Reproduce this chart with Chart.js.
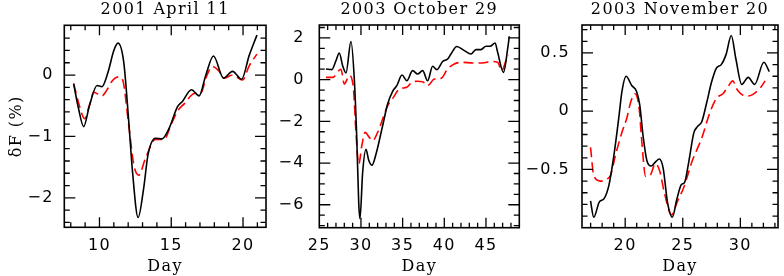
<!DOCTYPE html>
<html><head><meta charset="utf-8">
<script src="https://cdn.jsdelivr.net/npm/chart.js@4/dist/chart.umd.min.js"></script>
<style>
html,body{margin:0;padding:0;background:#fff;}
#wrap{position:relative;width:784px;height:276px;overflow:hidden;}
#wrap canvas{position:absolute;left:0;top:0;}
</style>
</head><body>
<div id="wrap">
<canvas id="c1" width="784" height="276"></canvas>
<canvas id="c2" width="784" height="276"></canvas>
<canvas id="c3" width="784" height="276"></canvas>
</div>
<script>
// ---------- data ----------
const titles = ['2001 April 11', '2003 October 29', '2003 November 20'];
const xLabel = 'Day';
const yLabel = 'δF (%)';

// Panel 1: 2001 April 11
const p1BlackDay = [8.2, 8.5, 8.9, 9.3, 9.83, 10.17, 10.6, 11.0, 11.29, 11.69, 12.04, 12.3, 12.69, 13.08, 13.38, 13.9, 14.36, 14.85, 15.43, 15.78, 16.41, 16.94, 17.41, 17.94, 18.64, 19.27, 19.9, 20.43, 20.97];
const p1BlackVal = [-0.14, -0.5, -0.84, -0.5, -0.17, -0.19, 0.05, 0.40, 0.52, 0.21, -0.76, -1.57, -2.32, -1.84, -1.30, -1.03, -1.04, -0.87, -0.52, -0.43, -0.24, -0.34, 0.0, 0.31, -0.05, 0.06, -0.07, 0.32, 0.65];
const p1RedDay = [8.2, 8.6, 8.97, 9.3, 9.6, 10.17, 10.5, 10.87, 11.34, 11.6, 12.04, 12.39, 12.74, 13.2, 13.9, 14.5, 15.0, 15.43, 15.9, 16.6, 17.1, 17.41, 17.87, 18.3, 18.7, 19.27, 19.97, 20.43, 20.97];
const p1RedVal = [-0.14, -0.5, -0.71, -0.49, -0.28, -0.34, -0.25, -0.10, -0.03, -0.07, -0.82, -1.46, -1.63, -1.36, -1.05, -1.05, -0.8, -0.59, -0.47, -0.30, -0.28, -0.05, 0.14, 0.07, -0.05, 0.0, -0.08, 0.15, 0.34];

// Panel 2: 2003 October 29
const p2BlackDay = [25.8, 26.5, 27.0, 27.4, 27.8, 28.2, 28.8, 29.2, 29.5, 29.73, 29.88, 30.2, 30.6, 30.92, 31.33, 31.8, 32.6, 33.2, 33.8, 34.3, 34.93, 35.5, 36.2, 36.8, 37.4, 38.0, 38.6, 39.1, 39.8, 40.4, 40.8, 41.5, 42.4, 43.2, 43.8, 44.4, 45.0, 45.5, 46.1, 46.4, 47.1, 47.6, 47.8];
const p2BlackVal = [0.51, 0.48, 0.91, 1.28, 0.67, 0.32, 1.83, 0.03, -2.86, -5.9, -6.67, -4.46, -3.34, -3.85, -4.1, -3.58, -2.21, -1.17, -0.56, -0.29, 0.22, -0.05, 0.43, 0.27, 0.43, -0.05, 0.64, 0.48, 0.87, 0.99, 1.23, 1.59, 1.39, 1.23, 1.44, 1.44, 1.6, 1.6, 1.76, 1.31, 0.35, 1.47, 2.08];
const p2RedDay = [25.8, 26.6, 27.6, 28.0, 28.6, 29.1, 29.4, 29.73, 30.1, 30.5, 31.0, 31.4, 32.0, 32.6, 33.2, 33.9, 34.6, 35.5, 36.2, 36.8, 37.4, 38.0, 38.8, 39.6, 40.4, 41.2, 42.2, 43.4, 44.6, 45.6, 46.4, 46.9, 47.4, 47.7];
const p2RedVal = [0.11, 0.11, 0.5, -0.21, 0.19, -0.45, -2.53, -4.06, -3.17, -2.53, -2.77, -2.93, -2.53, -1.89, -1.25, -0.85, -0.45, -0.37, -0.1, -0.08, -0.1, -0.29, 0.03, 0.06, 0.51, 0.75, 0.83, 0.8, 0.8, 0.87, 0.83, 0.43, 0.91, 1.15];

// Panel 3: 2003 November 20
const p3BlackDay = [16.99, 17.27, 17.75, 18.17, 18.6, 19.02, 19.44, 19.72, 20.08, 20.57, 20.99, 21.27, 21.55, 21.9, 22.26, 22.68, 22.96, 23.3, 23.67, 24.09, 24.5, 24.88, 25.16, 25.53, 25.95, 26.29, 26.65, 27.07, 27.5, 27.92, 28.34, 28.77, 29.21, 29.61, 30.12, 30.68, 31.24, 32.04, 32.51];
const p3BlackVal = [-0.77, -0.91, -0.78, -0.75, -0.63, -0.38, -0.06, 0.17, 0.30, 0.22, 0.17, 0.05, -0.21, -0.43, -0.47, -0.43, -0.41, -0.49, -0.78, -0.91, -0.75, -0.63, -0.61, -0.43, -0.19, -0.13, -0.09, 0.07, 0.25, 0.37, 0.40, 0.49, 0.65, 0.45, 0.23, 0.29, 0.23, 0.42, 0.34];
const p3RedDay = [16.99, 17.27, 17.84, 18.45, 18.73, 19.15, 19.72, 20.14, 20.48, 20.85, 21.22, 21.41, 21.78, 22.17, 22.62, 23.02, 23.38, 24.03, 24.51, 25.1, 25.81, 26.65, 27.36, 27.92, 28.49, 28.99, 29.33, 29.76, 30.46, 31.02, 31.73, 32.15];
const p3RedVal = [-0.31, -0.55, -0.60, -0.58, -0.55, -0.38, -0.18, -0.06, 0.08, 0.15, 0.02, -0.22, -0.56, -0.55, -0.45, -0.52, -0.69, -0.89, -0.78, -0.65, -0.43, -0.23, -0.01, 0.11, 0.15, 0.22, 0.26, 0.18, 0.13, 0.14, 0.20, 0.26];

// axis ranges and tick steps (data-space)
const xRanges = [[7.55, 21.6], [25, 49], [16.25, 33.27]];
const yRanges = [[-2.48, 0.81], [-7.1, 2.62], [-1.0, 0.74]];
const xMinor = [1, 1, 1], xMajor = [5, 5, 5];
const yMinor = [0.2, 0.5, 0.1], yMajor = [1, 2, 0.5];

// ---------- layout (pixels) ----------
const areas = [
  {L: 64.3, R: 266, T: 25.3, B: 227.3, gap: 10.5},
  {L: 319.3, R: 519.3, T: 25, B: 227.7, gap: 14.5},
  {L: 582, R: 783.3, T: 25, B: 227.7, gap: 12}
];
const Y_W = 60;
const SERIF = "'DejaVu Serif', serif";

Chart.defaults.font.family = "'DejaVu Sans', sans-serif";
Chart.defaults.color = '#000';

function isMajor(v, m) { const r = v / m; return Math.abs(r - Math.round(r)) < 1e-6; }
function fmt(v) {
  let s = String(Number(v.toFixed(3)));
  if (s === '-0') s = '0';
  return s.replace('-', '\u2212');
}
function pts(xs, ys) { return xs.map((d, i) => ({x: d, y: ys[i]})); }

const spacingPlugin = {
  id: 'spacing',
  beforeLayout(chart) { chart.ctx.letterSpacing = '1.4px'; },
  beforeDraw(chart) { chart.ctx.letterSpacing = '1.4px'; }
};

const framePlugin = {
  id: 'frameTicks',
  afterDatasetsDraw(chart, args, o) {
    const {ctx, chartArea: a} = chart;
    const x = chart.scales.x, y = chart.scales.y;
    ctx.save();
    ctx.strokeStyle = '#000';
    ctx.lineWidth = 1.3;
    ctx.beginPath();
    for (const t of x.ticks) {
      const p = x.getPixelForValue(t.value);
      if (p < a.left + 1 || p > a.right - 1) continue;
      const len = isMajor(t.value, o.xMajor) ? 10 : 5;
      ctx.moveTo(p, a.bottom); ctx.lineTo(p, a.bottom - len);
      ctx.moveTo(p, a.top); ctx.lineTo(p, a.top + len);
    }
    for (const t of y.ticks) {
      const p = y.getPixelForValue(t.value);
      if (p < a.top + 1 || p > a.bottom - 1) continue;
      const len = isMajor(t.value, o.yMajor) ? 11 : 5.5;
      ctx.moveTo(a.left, p); ctx.lineTo(a.left + len, p);
      ctx.moveTo(a.right, p); ctx.lineTo(a.right - len, p);
    }
    ctx.stroke();
    ctx.lineWidth = 1.6;
    ctx.strokeRect(a.left, a.top, a.right - a.left, a.bottom - a.top);
    ctx.restore();
  }
};

const panels = [
  {black: pts(p1BlackDay, p1BlackVal), red: pts(p1RedDay, p1RedVal)},
  {black: pts(p2BlackDay, p2BlackVal), red: pts(p2RedDay, p2RedVal)},
  {black: pts(p3BlackDay, p3BlackVal), red: pts(p3RedDay, p3RedVal)}
];

panels.forEach((p, i) => {
  const A = areas[i];
  const [xmin, xmax] = xRanges[i];
  const [ymin, ymax] = yRanges[i];
  const edge = (v, lo, hi) => Math.abs(v - lo) < 1e-9 || Math.abs(v - hi) < 1e-9;
  new Chart(document.getElementById('c' + (i + 1)), {
    type: 'line',
    data: {
      datasets: [
        {data: p.black, borderColor: '#000', borderWidth: 1.6, pointRadius: 0, fill: false, cubicInterpolationMode: 'monotone'},
        {data: p.red, borderColor: '#ff0000', borderWidth: 1.6, borderDash: [10, 5], pointRadius: 0, fill: false, cubicInterpolationMode: 'monotone'}
      ]
    },
    options: {
      responsive: false,
      animation: false,
      events: [],
      layout: {padding: {left: A.L - Y_W, right: 784 - A.R, top: A.T - 25, bottom: 0}},
      plugins: {
        legend: {display: false},
        tooltip: {enabled: false},
        title: {
          display: true, text: titles[i], fullSize: false, color: '#000',
          font: {family: SERIF, size: 16, weight: 'normal', lineHeight: 1.2},
          padding: {top: 0, bottom: 5.8}
        },
        frameTicks: {xMajor: xMajor[i], yMajor: yMajor[i]}
      },
      scales: {
        x: {
          type: 'linear', position: 'bottom',
          min: xmin, max: xmax,
          grid: {display: false, drawTicks: false}, border: {display: false},
          ticks: {stepSize: xMinor[i], includeBounds: false, autoSkip: false, maxRotation: 0, padding: 9,
                  font: {size: 16}, color: '#000',
                  callback: (v) => (isMajor(v, xMajor[i]) && !edge(v, -1e9, xmax)) ? fmt(v) : ''},
          title: {display: true, text: xLabel, color: '#000', padding: {top: 0, bottom: 0},
                  font: {family: SERIF, size: 16}},
          afterFit: (s) => { s.height = 276 - A.B; }
        },
        y: {
          type: 'linear', position: 'left',
          min: ymin, max: ymax,
          grid: {display: false, drawTicks: false}, border: {display: false},
          ticks: {stepSize: yMinor[i], includeBounds: false, autoSkip: false, padding: A.gap,
                  font: {size: 16}, color: '#000',
                  callback: (v) => (isMajor(v, yMajor[i]) && !edge(v, ymin, ymax)) ? fmt(v) : ''},
          title: {display: i === 0, text: yLabel, color: '#000', padding: {top: 3, bottom: 0},
                  font: {family: SERIF, size: 16}},
          afterFit: (s) => { s.width = Y_W; }
        }
      }
    },
    plugins: [spacingPlugin, framePlugin]
  });
});
</script>
</body></html>
